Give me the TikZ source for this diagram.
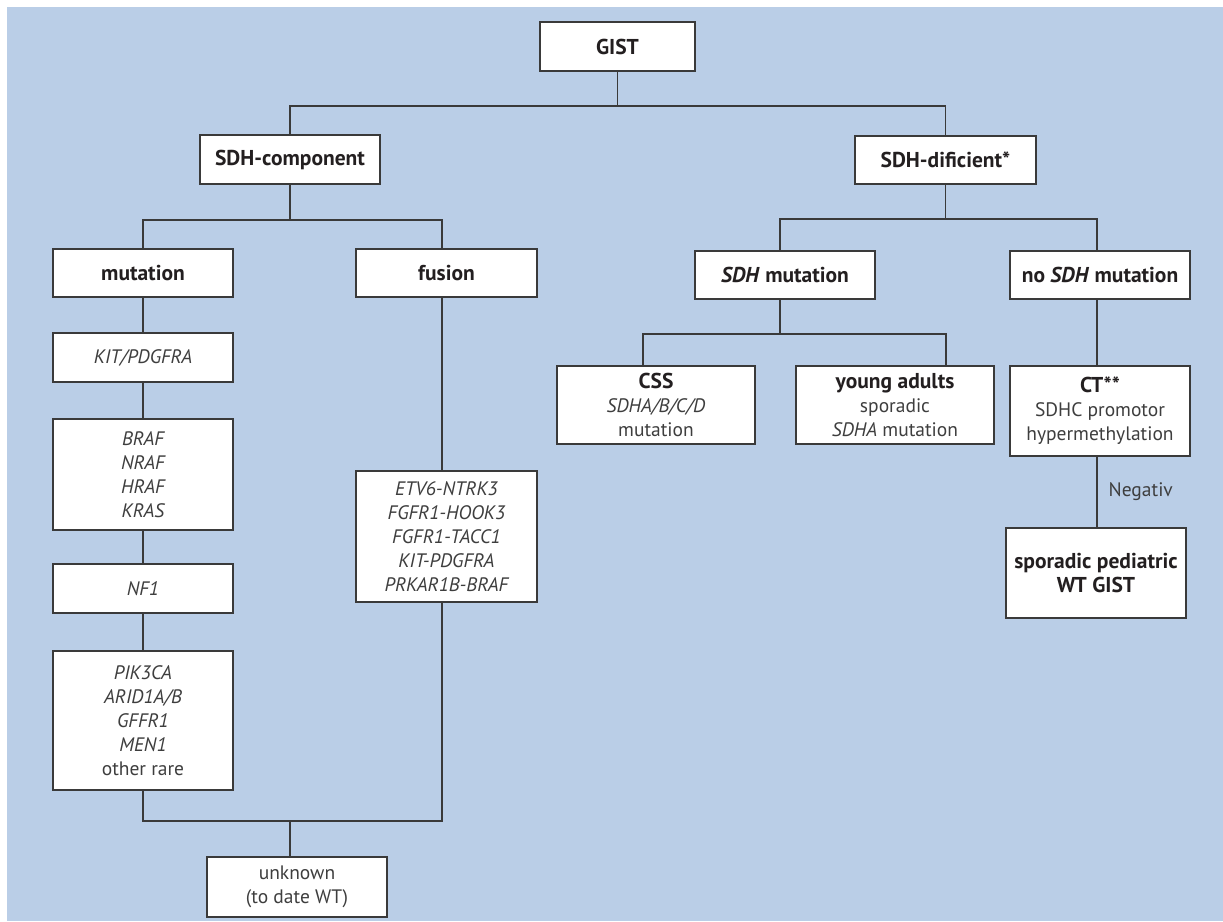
\documentclass[tikz,border=0pt]{standalone}
\usepackage{fontspec}
\setmainfont{PT Sans}
\definecolor{bg}{RGB}{186,206,231}
\definecolor{ink}{RGB}{35,31,32}
\definecolor{lite}{RGB}{62,62,62}
\definecolor{edge}{RGB}{58,58,58}
\newcommand\mybf{\fontsize{21.5}{24}\selectfont\bfseries\color{ink}}
\tikzset{
  box/.style={draw=edge, line width=1.3pt, fill=white, inner sep=0pt, align=center,
    text=lite, font=\fontsize{19.5}{24}\selectfont},
  conn/.style={draw=edge, line width=1.3pt},
  lbl/.style={text=lite, font=\fontsize{19.5}{24}\selectfont, inner sep=0pt, anchor=west}
}
\begin{document}
\begin{tikzpicture}[x=1pt,y=-1pt]
\useasboundingbox (0,0) rectangle (1223,921);
\fill[white] (0,0) rectangle (1223,921);
\fill[bg] (7,7) rectangle (1223,921);

% helper coordinates
\coordinate (yA) at (0,106);
\coordinate (yB) at (0,220);
\coordinate (yC) at (0,821);
\coordinate (yD) at (0,219);
\coordinate (yE) at (0,334);
\coordinate (xF) at (442,0);
\coordinate (xC) at (290,0);
\coordinate (xM) at (780,0);
\coordinate (xN) at (1097,0);
\coordinate (xS) at (643,0);
\coordinate (xY) at (946,0);

% boxes
\node[box, minimum width=155pt, minimum height=49pt] (gist) at (617.5,46.5) {\mybf GIST};
\node[box, minimum width=180pt, minimum height=49pt] (sdhc) at (290,159.5) {\mybf SDH-component};
\node[box, minimum width=181pt, minimum height=48pt] (sdhd) at (945.5,160) {\mybf SDH-dificient*};

\node[box, minimum width=180pt, minimum height=48pt] (mut) at (143,273) {\mybf mutation};
\node[box, minimum width=181pt, minimum height=48pt] (fus) at (446.5,273) {\mybf fusion};

\node[box, minimum width=180pt, minimum height=49pt] (kit) at (143,357.5) {\itshape KIT/PDGFRA};
\node[box, minimum width=180pt, minimum height=111pt] (braf) at (143,474.5) {\itshape BRAF\\\itshape NRAF\\\itshape HRAF\\\itshape KRAS};
\node[box, minimum width=180pt, minimum height=49pt] (nf) at (143,588.5) {\itshape NF1};
\node[box, minimum width=180pt, minimum height=139pt] (pik) at (143,720.5) {\itshape PIK3CA\\\itshape ARID1A/B\\\itshape GFFR1\\\itshape MEN1\\other rare};
\node[box, minimum width=181pt, minimum height=131pt] (fl) at (446.5,536.5) {\itshape ETV6-NTRK3\\\itshape FGFR1-HOOK3\\\itshape FGFR1-TACC1\\\itshape KIT-PDGFRA\\\itshape PRKAR1B-BRAF};
\node[box, minimum width=180pt, minimum height=60pt] (unk) at (297,887) {unknown\\(to date WT)};

\node[box, minimum width=180pt, minimum height=48pt] (sdhm) at (785,275) {\mybf\textit{SDH} mutation};
\node[box, minimum width=180pt, minimum height=48pt] (nosdh) at (1100,275) {\mybf no \textit{SDH} mutation};

\node[box, minimum width=198pt, minimum height=78pt] (css) at (656,405) {{\mybf CSS}\\\textit{SDHA/B/C/D}\\mutation};
\node[box, minimum width=198pt, minimum height=78pt] (young) at (895,405) {{\mybf young adults}\\sporadic\\\textit{SDHA} mutation};
\node[box, minimum width=180pt, minimum height=90pt] (ct) at (1100,411) {{\mybf CT**}\\SDHC promotor\\hypermethylation};
\node[box, minimum width=180pt, minimum height=90pt] (spor) at (1096,573) {\mybf sporadic pediatric\\\mybf WT GIST};

% connectors
\draw[conn] (gist.south) -- (gist.south |- yA);
\draw[conn] (sdhc.north) |- (sdhd.north |- yA) -- (sdhd.north);

\draw[conn] (sdhc.south) -- (sdhc.south |- yB);
\draw[conn] (mut.north) |- (xF |- yB) -- (xF |- fus.north);

\draw[conn] (mut.south) -- (kit.north);
\draw[conn] (kit.south) -- (braf.north);
\draw[conn] (braf.south) -- (nf.north);
\draw[conn] (nf.south) -- (pik.north);
\draw[conn] (xF |- fus.south) -- (xF |- fl.north);
\draw[conn] (pik.south) |- (xF |- yC) -- (xF |- fl.south);
\draw[conn] (xC |- yC) -- (xC |- unk.north);

\draw[conn] (sdhd.south) -- (sdhd.south |- yD);
\draw[conn] (xM |- sdhm.north) |- (xN |- yD) -- (xN |- nosdh.north);

\draw[conn] (xM |- sdhm.south) -- (xM |- yE);
\draw[conn] (xS |- css.north) |- (xY |- yE) -- (xY |- young.north);

\draw[conn] (xN |- nosdh.south) -- (xN |- ct.north);
\draw[conn] (xN |- ct.south) -- node[lbl, pos=0.5, xshift=11pt] (neg) {Negativ} (xN |- spor.north);
\end{tikzpicture}
\end{document}
